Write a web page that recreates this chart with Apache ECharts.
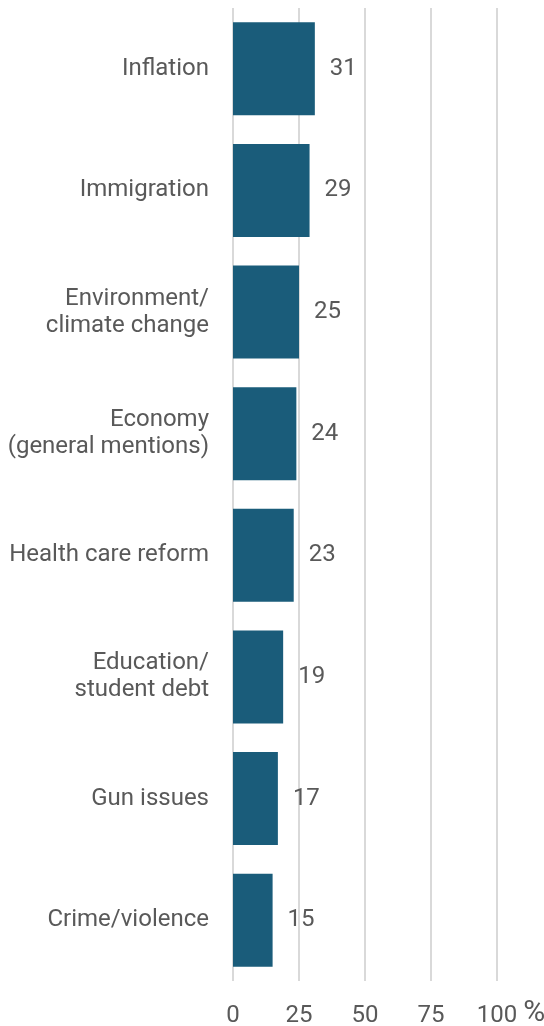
<!DOCTYPE html>
<html>
<head>
<meta charset="utf-8">
<script src="https://cdn.jsdelivr.net/npm/echarts@6/dist/echarts.min.js"></script>
<style>
  html, body { margin: 0; padding: 0; background: #fff; }
  #chart { width: 544px; height: 1026px; }
</style>
</head>
<body>
<div id="chart"></div>
<script>
const issues = [
  'Inflation',
  'Immigration',
  'Environment/\nclimate change',
  'Economy\n(general mentions)',
  'Health care reform',
  'Education/\nstudent debt',
  'Gun issues',
  'Crime/violence',
]
const shares = [31, 29, 25, 24, 23, 19, 17, 15]
const ticks = [0, 25, 50, 75, 100]

const chart = echarts.init(document.getElementById('chart'))

const textColor = '#595959'

chart.setOption({
  animation: false,
  textStyle: { fontFamily: 'Roboto' },
  grid: {
    left: 233,
    right: 47,
    top: 8,
    bottom: 45,
    outerBoundsMode: 'none',
  },
  xAxis: {
    type: 'value',
    min: ticks[0],
    max: ticks[ticks.length - 1],
    interval: 25,
    name: '%',
    nameLocation: 'end',
    nameGap: 22,
    nameTextStyle: {
      color: textColor,
      fontSize: 30,
      verticalAlign: 'top',
      padding: [17, 0, 0, 0],
    },
    axisLine: { show: false },
    axisTick: { show: false },
    axisLabel: {
      color: textColor,
      fontSize: 24,
      margin: 23,
    },
    splitLine: {
      show: true,
      lineStyle: { color: '#d9d9d9', width: 2 },
    },
  },
  yAxis: {
    type: 'category',
    inverse: true,
    data: issues,
    axisLine: { show: false },
    axisTick: { show: false },
    axisLabel: {
      color: textColor,
      fontSize: 24,
      lineHeight: 27,
      margin: 24,
      align: 'right',
      padding: [8, 0, 0, 0],
    },
  },
  series: [
    {
      type: 'bar',
      data: shares,
      barCategoryGap: '23.5%',
      itemStyle: { color: '#1a5c7a' },
      label: {
        show: true,
        position: 'right',
        distance: 15,
        color: textColor,
        fontSize: 24,
        padding: [8, 0, 0, 0],
      },
      z: 3,
    },
  ],
})
</script>
</body>
</html>
